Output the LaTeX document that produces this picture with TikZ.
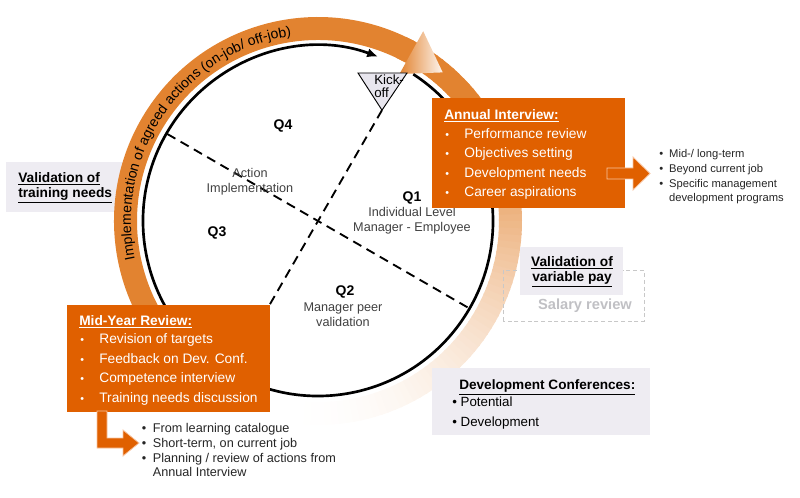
\documentclass[tikz,border=0pt]{standalone}
\usepackage{fontspec}
\setmainfont{Liberation Sans}
\usepackage{xcolor}
\usetikzlibrary{arrows.meta,decorations.text}

\definecolor{boxorange}{RGB}{224,96,0}
\definecolor{bandorange}{RGB}{226,131,48}
\definecolor{panelgray}{RGB}{238,236,242}
\definecolor{kickgray}{RGB}{232,230,238}
\definecolor{labelgray}{RGB}{64,64,64}
\definecolor{salarygray}{RGB}{192,192,196}

\newcommand{\boxbullet}{{\fontsize{8}{8}\selectfont\textbullet}}

\begin{document}
\begin{tikzpicture}[x=0.75pt,y=0.75pt,
  orangebox/.style={fill=boxorange},
  graypanel/.style={fill=panelgray},
  blockarrow/.style={fill=boxorange,draw={rgb,255:red,248;green,196;blue,160},line width=0.6pt},
  quarter/.style={inner sep=0pt,font=\fontsize{10.5}{12}\selectfont\bfseries},
  phase/.style={inner sep=0pt,align=center,text=labelgray,font=\fontsize{9.5}{11.25}\selectfont},
  divider/.style={line width=1.4pt,dash pattern=on 7pt off 4.5pt},
  boxtitle/.style={anchor=base west,inner sep=0pt,font=\fontsize{10.3}{12}\selectfont\bfseries},
  boxlist/.style={anchor=west,inner sep=0pt,text=white,font=\fontsize{10.3}{14.7}\selectfont},
  notelist/.style={anchor=west,inner sep=0pt,text=black!85},
  paneltext/.style={inner sep=0pt,align=center,font=\fontsize{10.3}{11.25}\selectfont\bfseries},
]
\useasboundingbox (0,0) rectangle (800,497);

%Shape: Rectangle [training needs panel]
\fill [graypanel] (6,285) rectangle (125,335);

\begin{scope}[shift={(318,276)}]
%Shape: Arc [band fading out after kick-off]
\foreach \a in {-98,-96,...,62}{
  \pgfmathsetmacro{\fade}{min(100,100*((\a+100)/130)^2)}
  \fill [bandorange!\fade!white] (\a:181) arc[start angle=\a,end angle=\a+2.5,radius=181] -- (\a+2.5:204) arc[start angle=\a+2.5,end angle=\a,radius=204] -- cycle;
}
%Shape: Arc [implementation band]
\fill [bandorange] (235:204) arc[start angle=235,end angle=61.5,radius=204] -- (61.5:181) arc[start angle=61.5,end angle=235,radius=181] -- cycle;
\shade [left color=bandorange,right color=white!92!bandorange] (61:168) -- (61:217) -- (50:194) -- cycle;
% Text Node [along band]
\path [decorate,decoration={text along path,text align=center,
  text={|\fontsize{10.5}{12}\selectfont|Implementation of agreed actions (on-job/ off-job)}}]
  (196:187) arc[start angle=196,end angle=94,radius=187];

%Shape: Circle [year cycle]
\draw [line width=2pt,-{Latex[length=8pt,width=7pt]}] (57:175) arc[start angle=57,end angle=-290,radius=175];

%Straight Lines [quarters]
\coordinate (kickbase) at (60:128);
\coordinate (rimlow) at (240:175);
\coordinate (rimleft) at (150:174);
\coordinate (rimright) at (-30:174);
\draw [divider] (rimleft) -- (rimright);
\draw [divider] (kickbase) -- (rimlow);
\end{scope}

%Shape: Triangle [kick-off]
\draw [fill=kickgray,line width=0.7pt] (358,424) -- (407,424) -- (kickbase) -- cycle;
% Text Node
\draw (374,410.5) node (kickoff) [anchor=west,inner sep=0pt,align=left,font=\fontsize{10}{10}\selectfont] {Kick-\\off};

% Text Node
\draw (283,371) node (qfour) [quarter] {Q4};
% Text Node
\draw (217,264) node (qthree) [quarter] {Q3};
% Text Node
\draw (412,299) node (qone) [quarter] {Q1};
% Text Node
\draw (345,205) node (qtwo) [quarter] {Q2};
% Text Node
\draw (250,315.5) node (actionimpl) [phase] {Action\\Implementation};
% Text Node
\draw (412,276) node (individual) [phase] {Individual Level\\Manager - Employee};
% Text Node
\draw (343,182.5) node (peer) [phase] {Manager peer\\validation};

% Text Node
\draw (18,309.5) node (trainval) [paneltext,anchor=west,align=left] {\underline{Validation of}\\\underline{training needs}};

%Shape: Rectangle [salary review, dashed]
\draw [draw={rgb,255:red,200;green,200;blue,200},line width=0.75pt,dash pattern=on 3pt off 2pt] (503,176) rectangle (644,226);
% Text Node
\draw (585,191) node (salary) [inner sep=0pt,text=salarygray,font=\fontsize{11}{12}\selectfont\bfseries] {Salary review};
%Shape: Rectangle [variable pay panel]
\fill [graypanel] (520,202) rectangle (623,250);
% Text Node
\draw (572,225) node (varpay) [paneltext] {\underline{Validation of}\\\underline{variable pay}};

%Shape: Rectangle [development conferences panel]
\fill [graypanel] (432,62) rectangle (650,129);
% Text Node
\draw (459,107.7) node (devtitle) [boxtitle,font=\fontsize{10.2}{12}\selectfont\bfseries] {\underline{Development Conferences:}};
% Text Node
\draw (452,84) node (devlist) [notelist,text=black,align=left,font=\fontsize{10}{15}\selectfont] {\textbullet~Potential\\\textbullet~Development};

%Shape: Rectangle [annual interview]
\fill [orangebox] (432,289) rectangle (625,399);
%Shape: Block Arrow [to career notes]
\draw [blockarrow] (607,318) -- (633,318) -- (633,307) -- (650,323.5) -- (633,340) -- (633,329) -- (607,329) -- cycle;
% Text Node
\draw (444,377.7) node (annualtitle) [boxtitle,text=white] {\underline{Annual Interview:}};
% Text Node
\draw (445,333.5) node (annuallist) [boxlist] {\begin{tabular}{@{}l@{\hspace{11.5pt}}l@{}}
\boxbullet & Performance review\\
\boxbullet & Objectives setting\\
\boxbullet & Development needs\\
\boxbullet & Career aspirations
\end{tabular}};
% Text Node
\draw (659,320) node (careerlist) [notelist,font=\fontsize{8.4}{11}\selectfont] {\begin{tabular}{@{}l@{\hspace{4.5pt}}l@{}}
\textbullet & Mid-/ long-term\\
\textbullet & Beyond current job\\
\textbullet & Specific management\\
 & development programs
\end{tabular}};

%Shape: Rectangle [mid-year review]
\fill [orangebox] (67,85) rectangle (270,192);
%Shape: Block Arrow [to training notes]
\draw [blockarrow] (97,86) -- (107,86) -- (107,59) -- (123,59) -- (123,67) -- (139,54) -- (123,41) -- (123,49) -- (97,49) -- cycle;
% Text Node
\draw (79,172) node (midtitle) [boxtitle,text=white] {\underline{Mid-Year Review:}};
% Text Node
\draw (80,128) node (midlist) [boxlist] {\begin{tabular}{@{}l@{\hspace{11.5pt}}l@{}}
\boxbullet & Revision of targets\\
\boxbullet & Feedback on Dev. Conf.\\
\boxbullet & Competence interview\\
\boxbullet & Training needs discussion
\end{tabular}};
% Text Node
\draw (141.5,45) node (traininglist) [notelist,font=\fontsize{9.5}{11}\selectfont] {\begin{tabular}{@{}l@{\hspace{5pt}}l@{}}
\textbullet & From learning catalogue\\
\textbullet & Short-term, on current job\\
\textbullet & Planning / review of actions from\\
 & Annual Interview
\end{tabular}};

\end{tikzpicture}
\end{document}
